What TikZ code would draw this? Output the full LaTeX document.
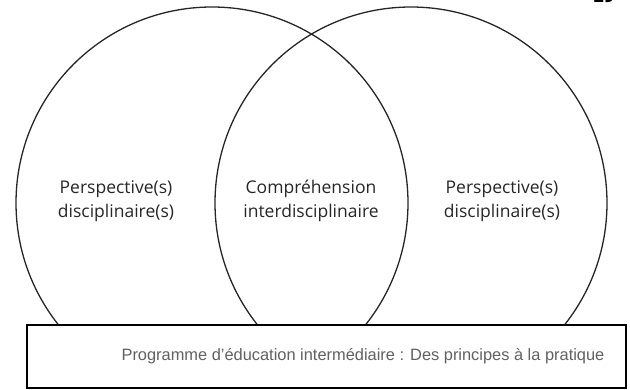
\documentclass[tikz,border=0pt]{standalone}
\usepackage{fontspec}
\setmainfont{Open Sans}
\newfontfamily\boxfont{Liberation Sans}
\begin{document}
\begin{tikzpicture}[x=1pt,y=-1pt,
  venn/.style={draw=black!85,line width=1.3pt},
  lbl/.style={align=center,font=\fontsize{17.5}{24}\selectfont,text=black!85,inner sep=0pt},
  capbox/.style={draw=black,line width=1.3pt,fill=white,minimum width=599pt,minimum height=63pt,inner sep=0pt,
     font=\boxfont\fontsize{16.4}{19}\selectfont,text=black!62}]
\useasboundingbox (0,0) rectangle (630,390);
\begin{scope}
\clip (0,0) rectangle (630,386);
\node[anchor=base,font=\fontsize{18}{20}\selectfont\bfseries,inner sep=0pt] (pg) at (604,3) {29};
\draw[venn] (212,203) circle[radius=196];
\draw[venn] (411,203) circle[radius=196];
\end{scope}
\node[lbl] (left) at (116,201) {Perspective(s)\\disciplinaire(s)};
\node[lbl] (mid) at (311,201) {Compréhension\\interdisciplinaire};
\node[lbl] (right) at (502,201) {Perspective(s)\\disciplinaire(s)};
\node[capbox] (cap) at (326.5,356.5) {\hspace*{73pt}Programme d’éducation intermédiaire : Des principes à la pratique};
\end{tikzpicture}
\end{document}
